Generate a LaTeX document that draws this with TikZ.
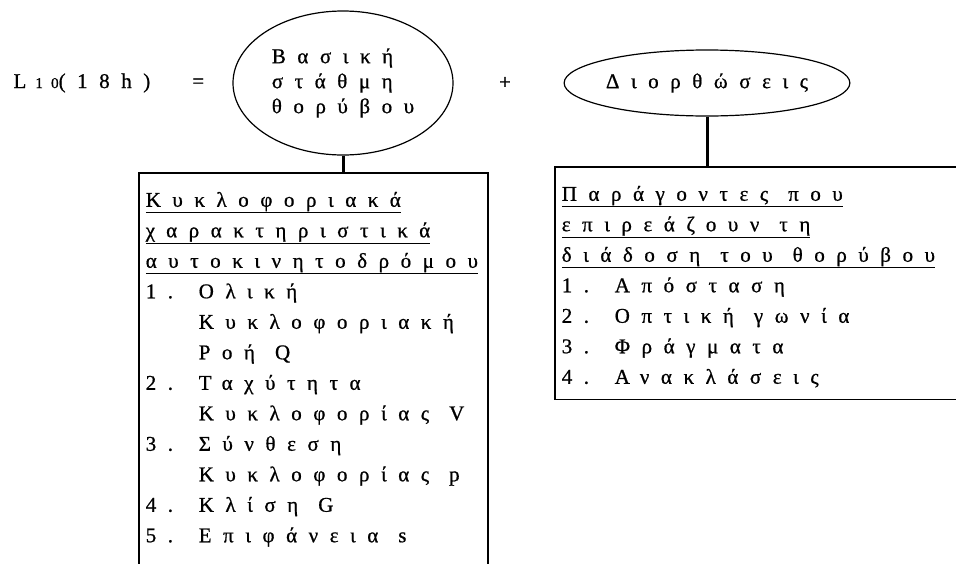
\documentclass[tikz,border=0pt]{standalone}
\usepackage{fontspec}
\setmainfont[LetterSpace=55,FakeBold=0.8]{Liberation Serif}
\usetikzlibrary{shapes.geometric}
\newcommand{\itm}[1]{\makebox[53pt][l]{#1}}
\newcommand{\cnt}{\hspace*{53pt}}
\newcommand{\ws}{\hspace{20pt}}
\newcommand{\firstline}{\rule{0pt}{22pt}}
\begin{document}
\begin{tikzpicture}[x=1pt,y=-1pt,
  every node/.style={font=\fontsize{21}{30.5}\selectfont},
  oval/.style={draw, ellipse, line width=1.2pt, inner sep=0pt},
  factbox/.style={draw, line width=1.5pt, anchor=north west, align=left, inner xsep=7pt, inner ysep=12pt},
  link/.style={line width=3pt}]
\useasboundingbox (0,0) rectangle (956,563);
\clip (0,0) rectangle (956,563);
\node[anchor=west] (eq) at (10,83) {L\hspace{9pt}{\fontsize{15}{15}\selectfont 10}(18h)\hspace{42pt}=};
\node[oval, minimum width=220, minimum height=144, align=left, font=\fontsize{21}{25}\selectfont] (basic) at (343,83) {Βασική\\στάθμη\\θορύβου};
\node (plus) at (505,83) {+};
\node[oval, minimum width=262, minimum height=66] (corr) at (707,83) {Διορθώσεις};
\node[factbox, text width=335] (traffic) at (138,172) {\firstline\underline{Κυκλοφοριακά}\\
  \underline{χαρακτηριστικά}\\
  \underline{αυτοκινητοδρόμου}\\
  \itm{1.}Ολική\\
  \cnt Κυκλοφοριακή\\
  \cnt Ροή\ws Q\\
  \itm{2.}Ταχύτητα\\
  \cnt Κυκλοφορίας\ws V\\
  \itm{3.}Σύνθεση\\
  \cnt Κυκλοφορίας\ws p\\
  \itm{4.}Κλίση\ws G\\
  \itm{5.}Επιφάνεια\ws s\\
  \mbox{}};
\node[factbox, text width=400] (factors) at (554,166) {\firstline\underline{Παράγοντες\ws που}\\
  \underline{επιρεάζουν\ws τη}\\
  \underline{διάδοση\ws του\ws θορύβου}\\
  \itm{1.}Απόσταση\\
  \itm{2.}Οπτική\ws γωνία\\
  \itm{3.}Φράγματα\\
  \itm{4.}Ανακλάσεις};
\draw[link] (basic.south) -- (basic.south |- traffic.north);
\draw[link] (corr.south) -- (corr.south |- factors.north);
\end{tikzpicture}
\end{document}
